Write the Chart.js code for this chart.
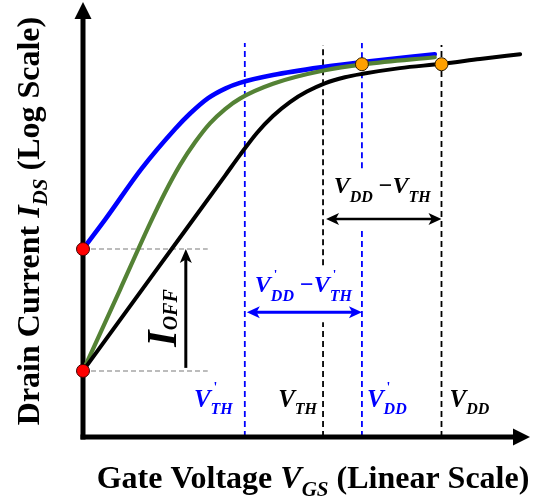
<!DOCTYPE html>
<html>
<head>
<meta charset="utf-8">
<title>Drain current vs gate voltage</title>
<script src="https://cdn.jsdelivr.net/npm/chart.js@4.4.1/dist/chart.umd.min.js"></script>
<style>
html,body{margin:0;padding:0;background:#ffffff;}
#wrap{position:relative;width:533px;height:498px;}
</style>
</head>
<body>
<div id="wrap"><canvas id="chart" width="533" height="498"></canvas></div>
<script>
// ---- data (x: gate voltage, linear units; y: drain current, log units) ----
const gateMarkNames = ["V'TH", "VTH", "V'DD", "VDD"];
const gateMarks = [3.62, 5.37, 6.24, 8.02];        // dashed marker voltages
const gateMarkTops = [9.06, 9.01, 9.06, 9.01];     // top ends of the dashed markers
const offLevels = [1.52, 4.32];                    // I_OFF levels (red dots)
const onLevels = [8.57, 8.57];                     // ON currents at V'DD (green) and VDD (black)
const blackX = [0, 1.72, 3.18, 3.51, 3.89, 4.25, 4.63, 5.01, 5.41, 5.86, 6.26, 7.09, 8.03, 8.88, 9.78];
const blackY = [1.52, 3.95, 6.01, 6.48, 6.99, 7.38, 7.70, 7.94, 8.13, 8.27, 8.35, 8.48, 8.58, 8.69, 8.80];
const greenX = [0, 0.83, 1.50, 1.83, 2.17, 2.51, 2.84, 3.18, 3.51, 4.25, 5.41, 6.31, 7.87];
const greenY = [1.52, 3.39, 4.91, 5.61, 6.25, 6.78, 7.21, 7.54, 7.78, 8.12, 8.43, 8.57, 8.73];
const blueX = [0, 0.49, 1.32, 2.06, 2.39, 2.80, 3.18, 3.51, 4.25, 5.41, 6.26, 7.87];
const blueY = [4.32, 4.99, 6.18, 7.08, 7.43, 7.79, 8.01, 8.14, 8.32, 8.51, 8.62, 8.80];
const offGuideEnd = [2.79];                        // end of the grey I_OFF guide lines
const ioffArrowX = [2.30];                         // I_OFF arrow position
const swingArrowY = [5.01, 2.87];                  // VDD−VTH (black), V'DD−V'TH (blue)
const vthGap = [2.64, 3.95];                       // break in the VTH marker
const vddPrimeGap = [4.80, 6.18];                  // break in the V'DD marker

// ---- styles ----
const BLUE = '#0000ff', GREEN = '#548235', BLACK = '#000000';
const SERIF = '"Liberation Serif", "Times New Roman", serif';
const F = (style, size) => `${style} ${size}px ${SERIF}`;

const pts = (xs, ys) => xs.map((x, i) => ({x: x, y: ys[i]}));
const vseg = (x, y0, y1) => [{x: x, y: y0}, {x: x, y: y1}];
const dashed = (data, color) => ({data, borderColor: color, borderWidth: 1.8, borderDash: [6, 4],
  pointRadius: 0, order: 20, clip: false, fill: false, tension: 0});
const curve = (data, color, width, order, extra) => Object.assign({data, borderColor: color, borderWidth: width,
  pointRadius: 0, order, clip: false, fill: false, cubicInterpolationMode: 'monotone', borderCapStyle: 'round', borderJoinStyle: 'round'}, extra || {});

const datasets = [
  dashed(vseg(gateMarks[0], 0, gateMarkTops[0]), BLUE),
  dashed(vseg(gateMarks[1], 0, vthGap[0]), BLACK),
  dashed(vseg(gateMarks[1], vthGap[1], gateMarkTops[1]), BLACK),
  dashed(vseg(gateMarks[2], 0, vddPrimeGap[0]), BLUE),
  dashed(vseg(gateMarks[2], vddPrimeGap[1], gateMarkTops[2]), BLUE),
  dashed(vseg(gateMarks[3], 0, gateMarkTops[3]), BLACK),
  {data: [{x: 0, y: offLevels[0]}, {x: offGuideEnd[0], y: offLevels[0]}], borderColor: '#a6a6a6', borderWidth: 1.5,
   borderDash: [5, 3], pointRadius: 0, order: 19, clip: false},
  {data: [{x: 0, y: offLevels[1]}, {x: offGuideEnd[0], y: offLevels[1]}], borderColor: '#a6a6a6', borderWidth: 1.5,
   borderDash: [5, 3], pointRadius: 0, order: 19, clip: false},
  curve(pts(blueX, blueY), BLUE, 4.6, 8, {axesBefore: true}),
  curve(pts(greenX, greenY), GREEN, 4.2, 7),
  curve(pts(blackX, blackY), BLACK, 4, 6),
  {data: [{x: 0, y: offLevels[0]}, {x: 0, y: offLevels[1]}], showLine: false, pointRadius: 6.5,
   pointBackgroundColor: '#ff0000', pointBorderColor: '#3a0000', pointBorderWidth: 1, order: 1, clip: false},
  {data: [{x: gateMarks[2], y: onLevels[0]}, {x: gateMarks[3], y: onLevels[1]}], showLine: false, pointRadius: 6.5,
   pointBackgroundColor: '#ffa000', pointBorderColor: '#2a1a00', pointBorderWidth: 1, order: 1, clip: false}
];

// ---- drawing helpers ----
function richWidth(ctx, parts) {
  let w = 0;
  for (const p of parts) { if (p.noAdvance) continue; ctx.font = p.font; w += ctx.measureText(p.text).width + (p.dx || 0); }
  return w;
}
function drawRich(ctx, parts, x, y, align, color) {
  const w = richWidth(ctx, parts);
  let cx = align === 'center' ? x - w / 2 : align === 'right' ? x - w : x;
  ctx.textAlign = 'left'; ctx.textBaseline = 'alphabetic';
  for (const p of parts) {
    ctx.font = p.font; ctx.fillStyle = p.color || color;
    ctx.fillText(p.text, cx + (p.dx || 0), y + (p.dy || 0));
    if (!p.noAdvance) cx += ctx.measureText(p.text).width + (p.dx || 0);
  }
}
function arrow(ctx, x1, y1, x2, y2, color, lw, hl, hw, headStart, headEnd) {
  const a = Math.atan2(y2 - y1, x2 - x1), c = Math.cos(a), s = Math.sin(a);
  const sx = headStart ? x1 + c * hl * 0.7 : x1, sy = headStart ? y1 + s * hl * 0.7 : y1;
  const ex = headEnd ? x2 - c * hl * 0.7 : x2, ey = headEnd ? y2 - s * hl * 0.7 : y2;
  ctx.save();
  ctx.strokeStyle = color; ctx.fillStyle = color; ctx.lineWidth = lw; ctx.lineCap = 'butt'; ctx.setLineDash([]);
  ctx.beginPath(); ctx.moveTo(sx, sy); ctx.lineTo(ex, ey); ctx.stroke();
  const head = (tx, ty, dc, ds) => {
    ctx.beginPath(); ctx.moveTo(tx, ty);
    ctx.lineTo(tx - dc * hl - ds * hw, ty - ds * hl + dc * hw);
    ctx.lineTo(tx - dc * hl * 0.75, ty - ds * hl * 0.75);
    ctx.lineTo(tx - dc * hl + ds * hw, ty - ds * hl - dc * hw);
    ctx.closePath(); ctx.fill();
  };
  if (headEnd) head(x2, y2, c, s);
  if (headStart) head(x1, y1, -c, -s);
  ctx.restore();
}
function vLabel(main, sub, prime, mainSize, subSize, subDy) {
  const parts = [{text: main, font: F('italic bold', mainSize)}];
  if (prime) parts.push({text: "'", font: F('bold', Math.round(mainSize * 0.55)), dx: 3, dy: -Math.round(mainSize * 0.6), noAdvance: true});
  parts.push({text: sub, font: F('italic bold', subSize), dy: subDy});
  return parts;
}

const diagram = {
  id: 'diagram',
  beforeDatasetDraw(chart, args) {
    if (!chart.data.datasets[args.index].axesBefore) return;
    const ctx = chart.ctx, xs = chart.scales.x, ys = chart.scales.y;
    const x0 = xs.getPixelForValue(0), y0 = ys.getPixelForValue(0);
    const xEnd = xs.getPixelForValue(xs.max), yEnd = ys.getPixelForValue(ys.max);
    ctx.save();
    ctx.strokeStyle = '#000'; ctx.fillStyle = '#000'; ctx.lineWidth = 5; ctx.setLineDash([]);
    ctx.beginPath(); ctx.moveTo(x0, y0 + 2.5); ctx.lineTo(x0, yEnd + 14); ctx.stroke();
    ctx.beginPath(); ctx.moveTo(x0 - 2.5, y0); ctx.lineTo(xEnd - 14, y0); ctx.stroke();
    ctx.beginPath(); ctx.moveTo(x0, yEnd); ctx.lineTo(x0 - 8.5, yEnd + 17); ctx.lineTo(x0 + 8.5, yEnd + 17); ctx.closePath(); ctx.fill();
    ctx.beginPath(); ctx.moveTo(xEnd, y0); ctx.lineTo(xEnd - 17, y0 - 8.5); ctx.lineTo(xEnd - 17, y0 + 8.5); ctx.closePath(); ctx.fill();
    ctx.restore();
  },
  afterDatasetsDraw(chart) {
    const ctx = chart.ctx, xs = chart.scales.x, ys = chart.scales.y;
    const px = v => xs.getPixelForValue(v), py = v => ys.getPixelForValue(v);
    // arrows
    arrow(ctx, px(ioffArrowX[0]), py(offLevels[0]) - 3, px(ioffArrowX[0]), py(offLevels[1]), BLACK, 3, 14, 6, false, true);
    arrow(ctx, px(gateMarks[1]) + 3, py(swingArrowY[0]), px(gateMarks[3]), py(swingArrowY[0]), BLACK, 2.6, 13, 6, true, true);
    arrow(ctx, px(gateMarks[0]) + 2, py(swingArrowY[1]), px(gateMarks[2]), py(swingArrowY[1]), BLUE, 3, 13, 6, true, true);

    ctx.save();
    // bottom voltage labels
    const baseY = py(0) - 30;
    drawRich(ctx, vLabel('V', 'TH', true, 25, 16, 7), px(gateMarks[0]) - 12, baseY, 'right', BLUE);
    drawRich(ctx, vLabel('V', 'TH', false, 25, 16, 7), px(gateMarks[1]) - 6, baseY, 'right', BLACK);
    drawRich(ctx, vLabel('V', 'DD', true, 25, 16, 7), px(gateMarks[2]) + 5, baseY, 'left', BLUE);
    drawRich(ctx, vLabel('V', 'DD', false, 25, 16, 7), px(gateMarks[3]) + 8, baseY, 'left', BLACK);

    // swing labels
    const minus = {text: ' \u2212', font: F('bold', 24)};
    const blackSwing = vLabel('V', 'DD', false, 24, 16, 9).concat([minus], vLabel('V', 'TH', false, 24, 16, 9));
    drawRich(ctx, blackSwing, (px(gateMarks[1]) + px(gateMarks[3])) / 2, py(swingArrowY[0]) - 26, 'center', BLACK);
    const blueSwing = vLabel('V', 'DD', true, 24, 16, 9).concat([minus], vLabel('V', 'TH', true, 24, 16, 9));
    drawRich(ctx, blueSwing, (px(gateMarks[0]) + px(gateMarks[2])) / 2, py(swingArrowY[1]) - 20, 'center', BLUE);

    // I_OFF (rotated)
    ctx.save();
    ctx.translate(px(ioffArrowX[0]) - 10, (py(offLevels[0]) + py(offLevels[1])) / 2 + 8);
    ctx.rotate(-Math.PI / 2);
    drawRich(ctx, [{text: 'I', font: F('italic bold', 42)}, {text: 'OFF', font: F('italic bold', 20), dy: 1}], 0, 0, 'center', BLACK);
    ctx.restore();

    // axis titles
    drawRich(ctx, [
      {text: 'Gate Voltage ', font: F('bold', 32)},
      {text: 'V', font: F('italic bold', 32)},
      {text: 'GS', font: F('italic bold', 21), dy: 8},
      {text: ' (Linear Scale)', font: F('bold', 32)}
    ], 313, 488, 'center', BLACK);
    ctx.save();
    ctx.translate(39, 221);
    ctx.rotate(-Math.PI / 2);
    drawRich(ctx, [
      {text: 'Drain Current ', font: F('bold', 32)},
      {text: 'I', font: F('italic bold', 32)},
      {text: 'DS', font: F('italic bold', 21), dy: 8},
      {text: ' (Log Scale)', font: F('bold', 32)}
    ], 0, 0, 'center', BLACK);
    ctx.restore();
    ctx.restore();
  }
};

new Chart(document.getElementById('chart'), {
  type: 'line',
  data: {datasets},
  options: {
    responsive: false,
    devicePixelRatio: 1,
    animation: false,
    events: [],
    layout: {autoPadding: false, padding: {left: 83, right: 3, top: 2, bottom: 61}},
    scales: {
      x: {type: 'linear', min: 0, max: 10, display: false},
      y: {type: 'linear', min: 0, max: 10, display: false}
    },
    plugins: {legend: {display: false}, tooltip: {enabled: false}, title: {display: false}}
  },
  plugins: [diagram]
});
</script>
</body>
</html>
